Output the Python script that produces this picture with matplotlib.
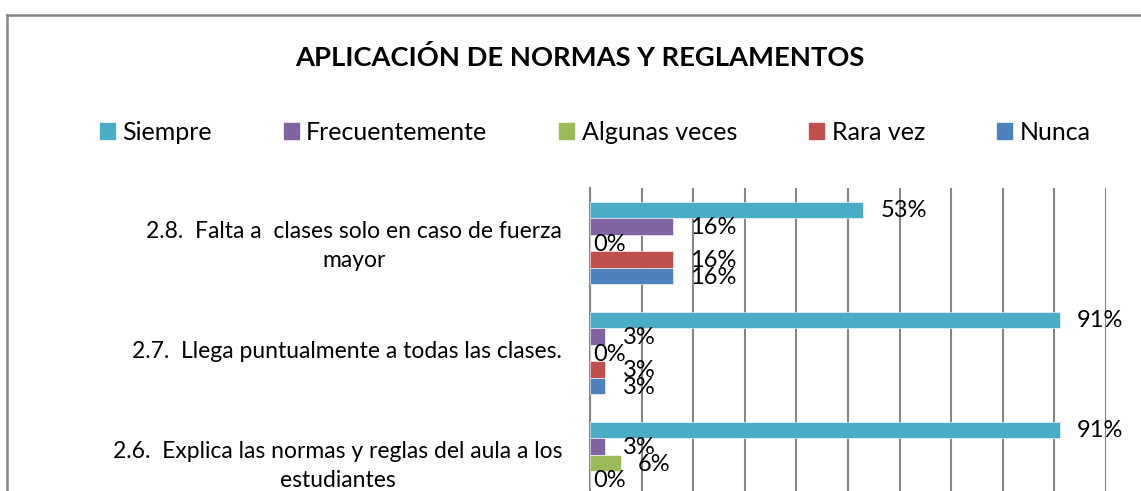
import matplotlib.pyplot as plt
import numpy as np
from matplotlib.patches import Rectangle
from matplotlib.lines import Line2D

plt.rcParams['font.family'] = ['Lato', 'DejaVu Sans']

categories = ["2.8.  Falta a  clases solo en caso de fuerza\nmayor",
              "2.7.  Llega puntualmente a todas las clases.",
              "2.6.  Explica las normas y reglas del aula a los\nestudiantes"]
series = ["Siempre", "Frecuentemente", "Algunas veces", "Rara vez", "Nunca"]
siempre = [0.53, 0.91, 0.91]
frecuentemente = [0.16, 0.03, 0.03]
algunas = [0.00, 0.00, 0.06]
rara = [0.16, 0.03, 0.00]
nunca = [0.16, 0.03, np.nan]  # last one is cut off in the picture
colors = ['#4BACC6', '#8064A2', '#9BBB59', '#C0504D', '#4F81BD']

values = [siempre, frecuentemente, algunas, rara, nunca]

W, H = 1141, 491
fig = plt.figure(figsize=(W/100, H/100), dpi=100)
# axes: x 590..1106 px, top at 188 px, extends below the picture
ax = fig.add_axes([590/W, (H-518)/H, 516/W, 330/H])

y = np.arange(len(categories))
h = 0.1509
for i, (name, vals) in enumerate(zip(series, values)):
    pos = y + (i-2)*h
    ax.barh(pos, vals, height=h, color=colors[i], edgecolor='white', linewidth=0.4, label=name, zorder=3)
    for p, v in zip(pos, vals):
        if np.isnan(v):
            continue
        off = 0.033 if v > 0 else 0.006
        ax.text(v+off, p+0.01, f"{round(v*100):d}%", va='center', ha='left', fontsize=17,
                color='black', zorder=4)

ax.set_xlim(0, 1)
ax.set_ylim(2.5, -0.5)
ax.set_xticks(np.arange(0, 1.01, 0.1))
ax.xaxis.grid(True, color='#868686', linewidth=1.5, zorder=0)
ax.tick_params(left=False, bottom=False, labelbottom=False, length=0)
for s in ['top', 'right', 'bottom']:
    ax.spines[s].set_visible(False)
ax.spines['left'].set_color('#868686')
ax.spines['left'].set_linewidth(1.5)
# labels sit a little above the group centre
ax.set_yticks(y - 0.03)
ax.set_yticklabels(categories, fontsize=16.5, multialignment='center')
for lab in ax.get_yticklabels():
    lab.set_linespacing(1.5)
ax.tick_params(axis='y', pad=20)

fig.text(580/W, 1-58/H, "APLICACIÓN DE NORMAS Y REGLAMENTOS", ha='center', va='center',
         fontsize=19.7, fontweight='bold')

handles = [Rectangle((0, 0), 1, 1, color=c) for c in colors]
fig.legend(handles, series, loc='center', bbox_to_anchor=(595/W, 1-132/H), ncol=5, frameon=False,
           fontsize=18, handlelength=0.6, handleheight=0.6, handletextpad=0.3, columnspacing=2.88)

# chart border
fig.add_artist(Line2D([7/W, 7/W], [0, 1-15/H], color='#868686', linewidth=1.8))
fig.add_artist(Line2D([7/W, 1], [1-15/H, 1-15/H], color='#868686', linewidth=1.8))

fig.savefig('out.png', dpi=100)
